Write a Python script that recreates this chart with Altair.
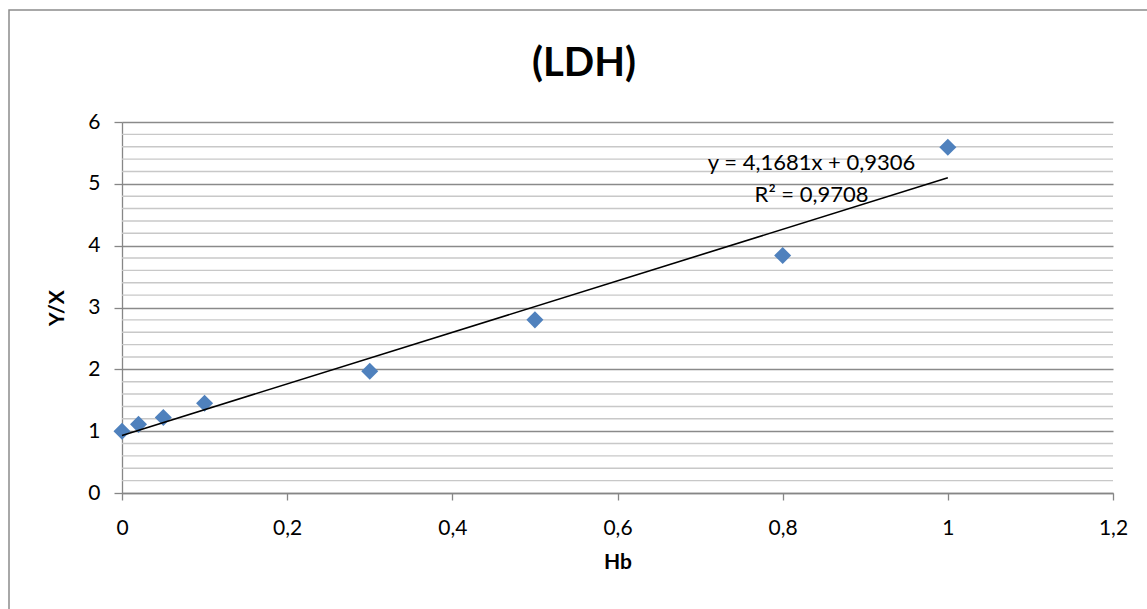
import altair as alt
import pandas as pd

# Data
hb = [0, 0.02, 0.05, 0.1, 0.3, 0.5, 0.8, 1.0]
yx = [1.00, 1.11, 1.22, 1.45, 1.97, 2.80, 3.84, 5.59]

# Trendline given on the chart
slope = 4.1681
intercept = 0.9306
trend_x = [0, 1.0]

eq_lines = ["y = 4,1681x + 0,9306", "R² = 0,9708"]
eq_x = [0.835, 0.835]
eq_y = [5.34, 4.82]

x_ticks = [0, 0.2, 0.4, 0.6, 0.8, 1.0, 1.2]
y_major = [0, 1, 2, 3, 4, 5, 6]
y_minor = [0.2, 0.4, 0.6, 0.8, 1.2, 1.4, 1.6, 1.8, 2.2, 2.4, 2.6, 2.8,
           3.2, 3.4, 3.6, 3.8, 4.2, 4.4, 4.6, 4.8, 5.2, 5.4, 5.6, 5.8]

FONT = "Lato"
W, H = 991, 371

pts = pd.DataFrame({"Hb": hb, "YX": yx})
trend = pd.DataFrame({"Hb": trend_x, "YX": [intercept + slope * v for v in trend_x]})
eq = pd.DataFrame({"Hb": eq_x, "YX": eq_y, "t": eq_lines})
minor = pd.DataFrame({"YX": y_minor})

x_scale = alt.Scale(domain=[0, 1.2], nice=False, zero=False)
y_scale = alt.Scale(domain=[0, 6], nice=False)

x_enc = alt.X("Hb:Q", scale=x_scale, axis=alt.Axis(
    title="Hb", values=x_ticks, grid=False, labelFlush=False, labelOverlap=False,
    labelExpr="replace(format(datum.value, '~g'), '.', ',')",
    domainColor="#868686", tickColor="#868686", tickSize=7, domainWidth=1.3, tickWidth=1.3,
    labelFont=FONT, labelFontSize=21, labelColor="#000000", labelPadding=17,
    titleFont=FONT, titleFontSize=21, titleFontWeight="bold", titleColor="#000000",
    titlePadding=13))

y_enc = alt.Y("YX:Q", scale=y_scale, axis=alt.Axis(
    title="Y/X", values=y_major, labelFlush=False, labelOverlap=False,
    format="d", gridColor="#8a8a8a", gridWidth=1.5,
    domainColor="#868686", tickColor="#868686", tickSize=8, domainWidth=1.3, tickWidth=1.3,
    labelFont=FONT, labelFontSize=21, labelColor="#000000", labelPadding=14,
    titleFont=FONT, titleFontSize=21, titleFontWeight="bold", titleColor="#000000",
    titlePadding=20))

minor_grid = alt.Chart(minor).mark_rule(color="#c8c8c8", strokeWidth=1.4).encode(
    y=y_enc, x=alt.value(0), x2=alt.value(W))

points = alt.Chart(pts).mark_point(
    shape="diamond", filled=True, size=290, color="#4F81BD", opacity=1
).encode(x=x_enc, y=alt.Y("YX:Q", scale=y_scale))

line = alt.Chart(trend).mark_line(color="#000000", strokeWidth=1.6).encode(
    x=alt.X("Hb:Q", scale=x_scale), y=alt.Y("YX:Q", scale=y_scale))

eq_text = alt.Chart(eq).mark_text(font=FONT, fontSize=22, color="#000000",
                                  align="center", baseline="middle").encode(
    x=alt.X("Hb:Q", scale=x_scale), y=alt.Y("YX:Q", scale=y_scale), text="t:N")

title = alt.Chart(pd.DataFrame({"t": ["(LDH)"]})).mark_text(
    font=FONT, fontSize=40, fontWeight="bold", color="#000000",
    align="center", baseline="middle").encode(
    x=alt.value(462), y=alt.value(-58), text="t:N")

border = alt.Chart(pd.DataFrame({"a": [0]})).mark_rect(
    fill=None, stroke="#8c8c8c", strokeWidth=1.5).encode(
    x=alt.value(-113), x2=alt.value(1040), y=alt.value(-112), y2=alt.value(500))

chart = alt.layer(border, minor_grid, points, line, eq_text, title).properties(
    width=W, height=H,
    autosize=alt.AutoSizeParams(type="none"),
    padding={"left": 122, "top": 122, "right": 34, "bottom": 116},
    background="#ffffff",
).configure_view(stroke=None)

chart.save("out.html", embed_options={"renderer": "svg", "actions": False})
